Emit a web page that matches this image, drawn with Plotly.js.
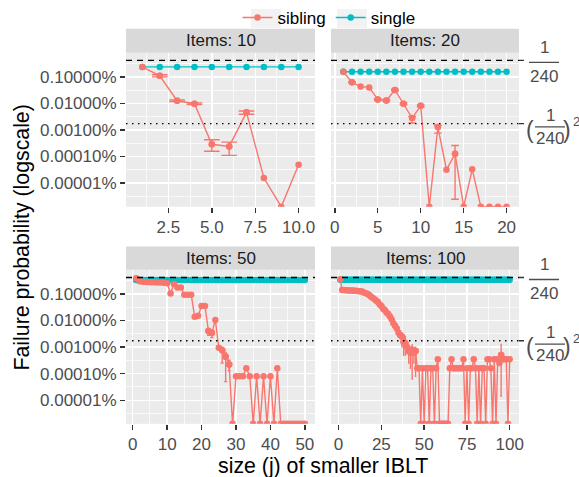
<!DOCTYPE html>
<html><head><meta charset="utf-8">
<script src="https://cdn.plot.ly/plotly-3.0.1.min.js"></script>
<style>html,body{margin:0;padding:0;background:#fff}</style>
</head><body><div id="chart" style="width:579px;height:477px"></div>
<script>
// ---------------- data ----------------
const panelTitles = ["Items: 10", "Items: 20", "Items: 50", "Items: 100"];
const seriesNames = ["sibling", "single"];
const yTickValues = [1e-3, 1e-4, 1e-5, 1e-6, 1e-7];
const yTickLabels = ["0.10000%", "0.01000%", "0.00100%", "0.00010%", "0.00001%"];
const refSingle = 1/240;            // dashed line
const refSquared = (1/240)*(1/240); // dotted line

const j10 = [1,2,3,4,5,6,7,8,9,10];
const sibling10 = [2.37e-3,1.10e-3,1.26e-4,9.8e-5,2.9e-6,2.4e-6,4.6e-5,1.55e-7,0,4.9e-7];
const single10  = [2.37e-3,2.37e-3,2.37e-3,2.37e-3,2.37e-3,2.37e-3,2.37e-3,2.37e-3,2.37e-3,2.37e-3];
const errJ10  = [2,3,4,5,6,7];
const errLo10 = [1.0e-3,1.17e-4,9.1e-5,1.58e-6,1.1e-6,3.9e-5];
const errHi10 = [1.2e-3,1.35e-4,1.05e-4,4.3e-6,3.5e-6,5.2e-5];

const j20 = [1,2,3,4,5,6,7,8,9,10,11,12,13,14,15,16,17,18,19,20];
const sibling20 = [1.55e-3,6.2e-4,4.3e-4,4.0e-4,1.41e-4,1.29e-4,3.2e-4,9.8e-5,2.8e-5,8.1e-5,0,1.29e-5,3.2e-7,1.26e-6,0,3.3e-7,0,0,0,0];
const single20  = [1.55e-3,1.55e-3,1.55e-3,1.55e-3,1.55e-3,1.55e-3,1.55e-3,1.55e-3,1.55e-3,1.55e-3,1.55e-3,1.55e-3,1.55e-3,1.55e-3,1.55e-3,1.55e-3,1.55e-3,1.55e-3,1.55e-3,1.55e-3];
const errJ20  = [2,5,6,7,8,9,10,12,14];
const errLo20 = [5.8e-4,1.3e-4,1.2e-4,3.0e-4,9.0e-5,1.82e-5,7.5e-5,7.6e-6,2.45e-8];
const errHi20 = [6.6e-4,1.5e-4,1.4e-4,3.4e-4,1.06e-4,3.2e-5,8.7e-5,1.5e-5,2.6e-6];

const j50 = [1,2,3,4,5,6,7,8,9,10,11,12,13,14,15,16,17,18,19,20,21,22,23,24,25,26,27,28,29,30,31,32,33,34,35,36,37,38,39,40,41,42,43,44,45,46,47,48,49,50];
const sibling50 = [3.89e-3,3.02e-3,2.88e-3,2.82e-3,2.75e-3,2.75e-3,2.69e-3,2.69e-3,2.63e-3,2.51e-3,
  1.05e-3,2.40e-3,1.74e-3,1.74e-3,9.3e-4,9.3e-4,9.3e-4,1.38e-4,1.51e-4,3.5e-4,
  3.5e-4,4.0e-5,3.5e-5,1.05e-4,9.5e-6,7.6e-6,4.3e-6,2.2e-6,0,8.0e-7,
  8.0e-7,8.0e-7,1.6e-6,8.0e-7,0,8.0e-7,0,8.0e-7,0,8.0e-7,
  0,1.6e-6,0,0,0,0,0,0,0,0];
const single50 = [3.39e-3,3.39e-3,3.39e-3,3.39e-3,3.39e-3,3.39e-3,3.39e-3,3.39e-3,3.39e-3,3.39e-3,
  3.39e-3,3.39e-3,3.39e-3,3.39e-3,3.39e-3,3.39e-3,3.39e-3,3.39e-3,3.39e-3,3.39e-3,
  3.39e-3,3.39e-3,3.39e-3,3.39e-3,3.39e-3,3.39e-3,3.39e-3,3.39e-3,3.39e-3,3.39e-3,
  3.39e-3,3.39e-3,3.39e-3,3.39e-3,3.39e-3,3.39e-3,3.39e-3,3.39e-3,3.39e-3,3.39e-3,
  3.39e-3,3.39e-3,3.39e-3,3.39e-3,3.39e-3,3.39e-3,3.39e-3,3.39e-3,3.39e-3,3.39e-3];
const errJ50  = [22,23,26,27,28];
const errLo50 = [2.8e-5,2.3e-5,2.5e-6,5.0e-7,1.3e-6];
const errHi50 = [5.0e-5,4.2e-5,1.0e-5,6.0e-6,3.2e-6];

const j100 = [1,2,3,4,5,6,7,8,9,10,11,12,13,14,15,16,17,18,19,20,21,22,23,24,25,26,27,28,29,30,31,32,33,34,35,36,37,38,39,40,41,42,43,44,45,46,47,48,49,50,
  51,52,53,54,55,56,57,58,59,60,61,62,63,64,65,66,67,68,69,70,71,72,73,74,75,76,77,78,79,80,81,82,83,84,85,86,87,88,89,90,91,92,93,94,95,96,97,98,99,100];
const sibling100 = [3.55e-3,1.41e-3,1.41e-3,1.38e-3,1.38e-3,1.35e-3,1.35e-3,1.35e-3,1.32e-3,1.32e-3,
  1.29e-3,1.26e-3,1.26e-3,1.20e-3,1.12e-3,1.07e-3,1.0e-3,8.9e-4,7.9e-4,7.1e-4,
  6.3e-4,5.6e-4,5.0e-4,4.0e-4,3.5e-4,2.8e-4,2.5e-4,2.0e-4,1.78e-4,1.41e-4,
  1.12e-4,7.9e-5,6.3e-5,5.0e-5,3.5e-5,2.8e-5,2.5e-5,1.58e-5,1.41e-5,1.0e-5,
  7.1e-6,6.3e-6,7.9e-6,6.3e-6,7.1e-6,1.6e-6,1.6e-6,0,1.6e-6,0,
  1.6e-6,1.6e-6,0,1.6e-6,1.6e-6,0,1.6e-6,3.5e-6,0,0,
  0,0,0,0,1.6e-6,3.5e-6,1.6e-6,1.6e-6,1.6e-6,1.6e-6,
  1.6e-6,1.6e-6,3.5e-6,0,1.6e-6,0,1.6e-6,1.6e-6,3.5e-6,1.6e-6,
  0,1.6e-6,0,1.6e-6,1.6e-6,0,3.5e-6,3.5e-6,1.6e-6,0,
  3.5e-6,0,3.5e-6,2.5e-6,5.0e-6,3.5e-6,3.5e-6,3.5e-6,0,3.5e-6];
const single100 = [3.47e-3,3.47e-3,3.47e-3,3.47e-3,3.47e-3,3.47e-3,3.47e-3,3.47e-3,3.47e-3,3.47e-3,
  3.47e-3,3.47e-3,3.47e-3,3.47e-3,3.47e-3,3.47e-3,3.47e-3,3.47e-3,3.47e-3,3.47e-3,
  3.47e-3,3.47e-3,3.47e-3,3.47e-3,3.47e-3,3.47e-3,3.47e-3,3.47e-3,3.47e-3,3.47e-3,
  3.47e-3,3.47e-3,3.47e-3,3.47e-3,3.47e-3,3.47e-3,3.47e-3,3.47e-3,3.47e-3,3.47e-3,
  3.47e-3,3.47e-3,3.47e-3,3.47e-3,3.47e-3,3.47e-3,3.47e-3,3.47e-3,3.47e-3,3.47e-3,
  3.47e-3,3.47e-3,3.47e-3,3.47e-3,3.47e-3,3.47e-3,3.47e-3,3.47e-3,3.47e-3,3.47e-3,
  3.47e-3,3.47e-3,3.47e-3,3.47e-3,3.47e-3,3.47e-3,3.47e-3,3.47e-3,3.47e-3,3.47e-3,
  3.47e-3,3.47e-3,3.47e-3,3.47e-3,3.47e-3,3.47e-3,3.47e-3,3.47e-3,3.47e-3,3.47e-3,
  3.47e-3,3.47e-3,3.47e-3,3.47e-3,3.47e-3,3.47e-3,3.47e-3,3.47e-3,3.47e-3,3.47e-3,
  3.47e-3,3.47e-3,3.47e-3,3.47e-3,3.47e-3,3.47e-3,3.47e-3,3.47e-3,3.47e-3,3.47e-3];
const errJ100  = [37,38,39,41,42,43,44,45,95];
const errLo100 = [1.0e-5,5.0e-6,5.0e-6,2.5e-6,1.6e-6,6.3e-7,2.5e-6,8.0e-7,1.4e-7];
const errHi100 = [3.5e-5,2.2e-5,2.5e-5,1.0e-5,1.0e-5,1.2e-5,9.0e-6,1.0e-5,1.25e-5];

// ---------------- layout constants ----------------
const W = 579, H = 477;
const FONT = '"Liberation Sans", Arial, sans-serif';
const RED = '#F8766D', CYAN = '#00BFC4';
const Y_RANGE = [-7.89, -2.09];
const cols = [[126, 315], [331, 519]];
const rows = [[50, 205], [268.5, 423.5]];
const strips = [[26, 50], [245, 268.5]];
const legendKeys = [[251, 281], [337, 367]];

const panels = [
  {x: j10,  sib: sibling10,  sgl: single10,  ej: errJ10,  elo: errLo10,  ehi: errHi10,  dtick: 2.5, fmt: '.1f', c: 0, r: 0},
  {x: j20,  sib: sibling20,  sgl: single20,  ej: errJ20,  elo: errLo20,  ehi: errHi20,  dtick: 5,   fmt: 'd',   c: 1, r: 0},
  {x: j50,  sib: sibling50,  sgl: single50,  ej: errJ50,  elo: errLo50,  ehi: errHi50,  dtick: 10,  fmt: 'd',   c: 0, r: 1},
  {x: j100, sib: sibling100, sgl: single100, ej: errJ100, elo: errLo100, ehi: errHi100, dtick: 25,  fmt: 'd',   c: 1, r: 1}
];

const L = v => v > 0 ? Math.log10(v) : Y_RANGE[0]; // zero -> -Inf drawn at panel edge
function ggRange(xs) {
  const lo = Math.min(...xs) - 0.45, hi = Math.max(...xs) + 0.45, e = (hi - lo) * 0.05;
  return [lo - e, hi + e];
}

const traces = [];
const layout = {
  width: W, height: H,
  margin: {l: 0, r: 0, t: 0, b: 0},
  paper_bgcolor: '#FFFFFF', plot_bgcolor: '#EBEBEB',
  font: {family: FONT, size: 17, color: '#4D4D4D'},
  showlegend: true,
  legend: {orientation: 'h', x: 329/W, xanchor: 'center', y: 1 - 15/H, yanchor: 'middle',
           bgcolor: 'rgba(0,0,0,0)', font: {family: FONT, size: 17, color: '#000000'},
           itemwidth: 30, traceorder: 'normal'},
  shapes: [], annotations: []
};

legendKeys.forEach(k => layout.shapes.push({type: 'rect', layer: 'below', xref: 'paper', yref: 'paper',
  x0: k[0] / W, x1: k[1] / W, y0: 1 - 25 / H, y1: 1 - 6 / H, fillcolor: '#F2F2F2', line: {width: 0}}));

panels.forEach((p, i) => {
  const s = i === 0 ? '' : String(i + 1);
  const xa = 'x' + s, ya = 'y' + s;
  const colW = cols[p.c][1] - cols[p.c][0];
  const capW = 0.45 * colW / (ggRange(p.x)[1] - ggRange(p.x)[0]);

  traces.push({
    type: 'scatter', mode: 'lines+markers', name: seriesNames[1], legendgroup: 'single', legendrank: 2,
    showlegend: i === 0, x: p.x, y: p.sgl.map(L), xaxis: xa, yaxis: ya,
    line: {color: CYAN, width: 1.4}, marker: {color: CYAN, size: 6.5}, hoverinfo: 'skip'
  });
  traces.push({
    type: 'scatter', mode: 'lines+markers', name: seriesNames[0], legendgroup: 'sibling', legendrank: 1,
    showlegend: i === 0, x: p.x, y: p.sib.map(L), xaxis: xa, yaxis: ya,
    line: {color: RED, width: 1.4}, marker: {color: RED, size: 6.5}, hoverinfo: 'skip'
  });
  const ey = p.ej.map(j => L(p.sib[p.x.indexOf(j)]));
  traces.push({
    type: 'scatter', mode: 'markers', showlegend: false, x: p.ej, y: ey, xaxis: xa, yaxis: ya,
    marker: {color: RED, size: 6.5}, hoverinfo: 'skip',
    error_y: {type: 'data', symmetric: false,
      array: p.ehi.map((h, k) => Math.log10(h) - ey[k]),
      arrayminus: p.elo.map((l, k) => ey[k] - Math.log10(l)),
      color: RED, thickness: 1.4, width: capW}
  });

  layout['xaxis' + s] = {
    domain: [cols[p.c][0] / W, cols[p.c][1] / W], anchor: ya, range: ggRange(p.x),
    tickmode: 'linear', tick0: 0, dtick: p.dtick, tickformat: p.fmt,
    showline: false, zeroline: false, showgrid: true, gridcolor: '#FFFFFF', gridwidth: 1.4,
    minor: {tick0: 0, dtick: p.dtick / 2, showgrid: true, gridcolor: '#FFFFFF', gridwidth: 0.7, ticks: ''},
    ticks: 'outside', ticklen: 5, tickwidth: 1.4, tickcolor: '#333333',
    tickfont: {family: FONT, size: 17, color: '#4D4D4D'}, fixedrange: true
  };
  layout['yaxis' + s] = {
    domain: [1 - rows[p.r][1] / H, 1 - rows[p.r][0] / H], anchor: xa, range: Y_RANGE,
    tickmode: 'array', tickvals: yTickValues.map(L), ticktext: yTickLabels,
    showticklabels: p.c === 0, ticks: p.c === 0 ? 'outside' : '',
    ticklen: 5, tickwidth: 1.4, tickcolor: '#333333',
    showline: false, zeroline: false, showgrid: true, gridcolor: '#FFFFFF', gridwidth: 1.4,
    minor: {tick0: 0, dtick: 0.5, showgrid: true, gridcolor: '#FFFFFF', gridwidth: 0.7, ticks: ''},
    tickfont: {family: FONT, size: 17, color: '#4D4D4D'}, fixedrange: true
  };

  // reference lines
  layout.shapes.push({type: 'line', layer: 'above', xref: xa + ' domain', yref: ya, x0: 0, x1: 1,
    y0: Math.log10(refSingle), y1: Math.log10(refSingle), line: {color: '#000000', width: 1.4, dash: '6px,5px'}});
  layout.shapes.push({type: 'line', layer: 'above', xref: xa + ' domain', yref: ya, x0: 0, x1: 1,
    y0: Math.log10(refSquared), y1: Math.log10(refSquared), line: {color: '#000000', width: 1.4, dash: '1.5px,4.5px'}});

  // strip
  layout.shapes.push({type: 'rect', layer: 'below', xref: 'paper', yref: 'paper',
    x0: cols[p.c][0] / W, x1: cols[p.c][1] / W, y0: 1 - strips[p.r][1] / H, y1: 1 - strips[p.r][0] / H,
    fillcolor: '#D9D9D9', line: {width: 0}});
  layout.annotations.push({xref: 'paper', yref: 'paper', x: (cols[p.c][0] + cols[p.c][1]) / 2 / W,
    y: 1 - (strips[p.r][0] + strips[p.r][1]) / 2 / H, text: panelTitles[i], showarrow: false,
    xanchor: 'center', yanchor: 'middle', font: {family: FONT, size: 17, color: '#1A1A1A'}});

  // right-hand secondary labels
  if (p.c === 1) {
    const dom = xa + ' domain';
    const y1 = Math.log10(refSingle), y2 = Math.log10(refSquared);
    [y1, y2].forEach(yv => layout.shapes.push({type: 'line', xref: dom, yref: ya,
      x0: 1, x1: 1 + 5 / colW, y0: yv, y1: yv, line: {color: '#333333', width: 1.4}}));
    const tf = {family: FONT, size: 17, color: '#4D4D4D'};
    const ann = (text, dx, yv, dy, font) => layout.annotations.push({xref: dom, yref: ya, x: 1, y: yv,
      xshift: dx, yshift: dy, text: text, showarrow: false, xanchor: 'center', yanchor: 'middle', font: font || tf});
    ann('1', 25, y1, 13);
    ann('240', 25, y1, -16);
    layout.shapes.push({type: 'line', xref: dom, yref: ya, ysizemode: 'pixel', yanchor: y1,
      x0: 1 + 10 / colW, x1: 1 + 40 / colW, y0: -2, y1: -2, line: {color: '#4D4D4D', width: 1.3}});
    ann('(', 11, y2, -6, {family: FONT, size: 23, color: '#4D4D4D'});
    ann('1', 31, y2, 8.5);
    ann('240', 31, y2, -15);
    ann(')', 48, y2, -6, {family: FONT, size: 23, color: '#4D4D4D'});
    ann('2', 57, y2, 2, {family: FONT, size: 13, color: '#4D4D4D'});
    layout.shapes.push({type: 'line', xref: dom, yref: ya, ysizemode: 'pixel', yanchor: y2,
      x0: 1 + 16 / colW, x1: 1 + 46 / colW, y0: -3.3, y1: -3.3, line: {color: '#4D4D4D', width: 1.3}});
  }
});

// axis titles
layout.annotations.push({xref: 'paper', yref: 'paper', x: 322.5 / W, y: 1 - 466 / H, text: 'size (j) of smaller IBLT',
  showarrow: false, xanchor: 'center', yanchor: 'middle', font: {family: FONT, size: 21.3, color: '#000000'}});
layout.annotations.push({xref: 'paper', yref: 'paper', x: 22 / W, y: 1 - 236 / H, text: 'Failure probability (logscale)',
  textangle: -90, showarrow: false, xanchor: 'center', yanchor: 'middle', font: {family: FONT, size: 21.3, color: '#000000'}});

Plotly.newPlot('chart', traces, layout, {displayModeBar: false, staticPlot: true});
</script>
</body></html>
